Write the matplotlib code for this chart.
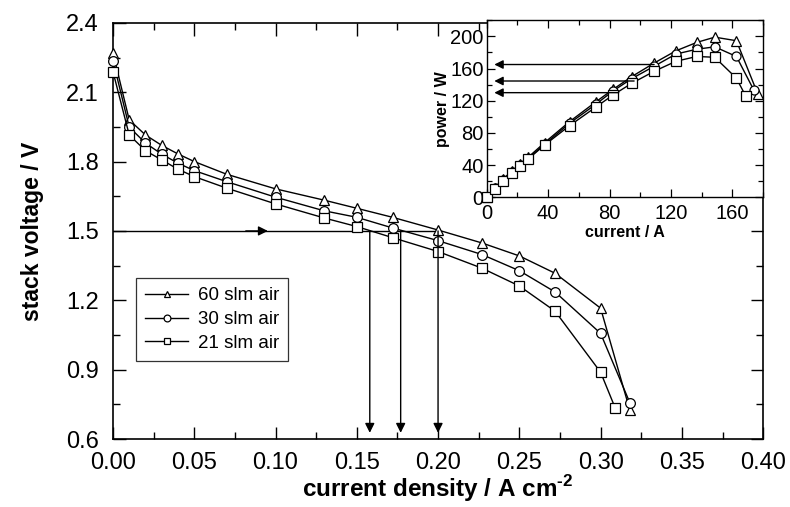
import numpy as np
import matplotlib.pyplot as plt
from matplotlib.ticker import MultipleLocator

plt.rcParams['font.family'] = ['Liberation Sans', 'DejaVu Sans']
plt.rcParams['mathtext.fontset'] = 'custom'
plt.rcParams['mathtext.rm'] = 'Liberation Sans:bold'

# main plot: current density / A cm-2 vs stack voltage / V
j_60 = [0.0, 0.01, 0.02, 0.03, 0.04, 0.05, 0.07, 0.10, 0.13, 0.15, 0.172, 0.20, 0.227, 0.25, 0.272, 0.30, 0.318]
u_60 = [2.27, 1.98, 1.915, 1.87, 1.833, 1.80, 1.745, 1.682, 1.633, 1.598, 1.559, 1.504, 1.448, 1.392, 1.317, 1.166, 0.725]
j_30 = [0.0, 0.01, 0.02, 0.03, 0.04, 0.05, 0.07, 0.10, 0.13, 0.15, 0.172, 0.20, 0.227, 0.25, 0.272, 0.30, 0.318]
u_30 = [2.237, 1.949, 1.88, 1.832, 1.793, 1.761, 1.713, 1.646, 1.587, 1.559, 1.513, 1.458, 1.398, 1.328, 1.236, 1.057, 0.757]
j_21 = [0.0, 0.01, 0.02, 0.03, 0.04, 0.05, 0.07, 0.10, 0.13, 0.15, 0.172, 0.20, 0.227, 0.25, 0.272, 0.30, 0.309]
u_21 = [2.189, 1.915, 1.847, 1.807, 1.767, 1.735, 1.685, 1.617, 1.556, 1.519, 1.471, 1.411, 1.339, 1.262, 1.153, 0.889, 0.734]

# inset: current / A vs power / W
i_60 = [0, 5.4, 10.8, 16.2, 21.6, 27, 37.8, 54, 71.4, 82.2, 94.5, 109.2, 123.2, 136.8, 148.5, 162.6, 176.6]
p_60 = [0, 12, 23, 32, 41.7, 49.6, 68, 94, 119, 134, 150, 167, 182, 192.5, 199, 194.6, 128]
i_30 = [0, 5.4, 10.8, 16.2, 21.6, 27, 37.8, 54, 71.4, 82.2, 94.5, 109.2, 123.2, 136.8, 148.5, 162.6, 174]
p_30 = [0, 11, 21, 31, 40, 48, 66, 92, 116, 132, 147.5, 163, 178, 184, 187, 175, 133]
i_21 = [0, 5.4, 10.8, 16.2, 21.6, 27, 37.8, 54, 71.4, 82.2, 94.5, 109.2, 123.2, 136.8, 148.5, 162.6, 168.6]
p_21 = [0, 10, 20, 30, 39, 47.5, 65, 89, 112.5, 127, 141.7, 156.7, 169, 175, 174, 148, 126]

# operating points at 1.5 V
j_op = [0.158, 0.177, 0.200]
i_op = [86, 96, 109]
p_op = [130, 144.5, 165]

labels = ['60 slm air', '30 slm air', '21 slm air']
markers = ['^', 'o', 's']

fig = plt.figure(figsize=(7.9, 5.07), dpi=100)
ax = fig.add_axes([0.143, 0.134, 0.823, 0.821])

for j, u, m, lab in zip([j_60, j_30, j_21], [u_60, u_30, u_21], markers, labels):
    ax.plot(j, u, color='black', lw=1.0, marker=m, ms=7, mfc='white', mec='black', mew=0.9,
            label=lab, clip_on=False, zorder=3)

# arrows
ax.plot([0, 0.20], [1.5, 1.5], color='black', lw=1.0)
ax.annotate('', xy=(0.097, 1.5), xytext=(0.08, 1.5),
            arrowprops=dict(arrowstyle='-|>', color='black', lw=1.0, mutation_scale=14))
for x in j_op:
    ax.annotate('', xy=(x, 0.627), xytext=(x, 1.5),
                arrowprops=dict(arrowstyle='-|>', color='black', lw=1.0, mutation_scale=14, shrinkA=0, shrinkB=0))

ax.set_xlim(0, 0.40)
ax.set_ylim(0.6, 2.4)
ax.xaxis.set_major_locator(MultipleLocator(0.05))
ax.xaxis.set_minor_locator(MultipleLocator(0.025))
ax.yaxis.set_major_locator(MultipleLocator(0.3))
ax.yaxis.set_minor_locator(MultipleLocator(0.15))
ax.xaxis.set_major_formatter(plt.FormatStrFormatter('%.2f'))
ax.yaxis.set_major_formatter(plt.FormatStrFormatter('%.1f'))
ax.tick_params(which='both', direction='in', top=True, right=True, labelsize=17, width=1.0)
ax.tick_params(which='major', length=9)
ax.tick_params(which='minor', length=5)
ax.tick_params(axis='x', pad=9)
ax.tick_params(axis='y', pad=10)
for s in ax.spines.values():
    s.set_linewidth(1.2)
ax.set_xlabel('current density / A cm$^{\\text{-2}}$', fontsize=17.5, fontweight='bold', labelpad=0)
ax.set_ylabel('stack voltage / V', fontsize=16.5, fontweight='bold', labelpad=16)

ax.text(0.261, 2.24, '0.75 M methanol\n1.5 bar abs.\n110 °C', fontsize=15, va='top', ha='left', linespacing=1.05)

leg = ax.legend(loc='upper left', bbox_to_anchor=(0.035, 0.387), fontsize=13.5, frameon=True, fancybox=False,
                edgecolor='black', handlelength=2.3, handletextpad=0.5, borderpad=0.5, labelspacing=0.35,
                borderaxespad=0, markerscale=0.7)
leg.get_frame().set_linewidth(0.9)

# inset
ins = fig.add_axes([0.616, 0.611, 0.35, 0.349])
for i, p, m in zip([i_60, i_30, i_21], [p_60, p_30, p_21], markers):
    ins.plot(i, p, color='black', lw=1.0, marker=m, ms=6.5, mfc='white', mec='black', mew=0.9,
             clip_on=False, zorder=3)
for i, p in zip(i_op, p_op):
    ins.annotate('', xy=(5, p), xytext=(i, p),
                 arrowprops=dict(arrowstyle='-|>', color='black', lw=1.0, mutation_scale=13, shrinkA=0, shrinkB=0))
ins.set_xlim(0, 180)
ins.set_ylim(0, 220)
ins.xaxis.set_major_locator(MultipleLocator(40))
ins.xaxis.set_minor_locator(MultipleLocator(20))
ins.yaxis.set_major_locator(MultipleLocator(40))
ins.yaxis.set_minor_locator(MultipleLocator(20))
ins.tick_params(which='both', direction='in', top=True, right=True, labelsize=14.5, width=0.9, pad=2)
ins.tick_params(axis='x', pad=5)
ins.tick_params(which='major', length=6)
ins.tick_params(which='minor', length=3.5)
for s in ins.spines.values():
    s.set_linewidth(1.0)
ins.set_xlabel('current / A', fontsize=11.5, fontweight='bold', labelpad=1)
ins.set_ylabel('power / W', fontsize=11.5, fontweight='bold', labelpad=0)

fig.savefig('out.png', dpi=100)
